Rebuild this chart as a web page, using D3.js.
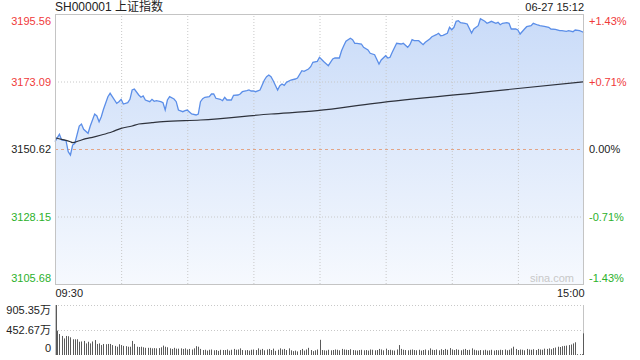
<!DOCTYPE html>
<html><head><meta charset="utf-8">
<script src="https://cdn.jsdelivr.net/npm/d3@7"></script>
<style>
body{margin:0;background:#fff;}
svg text{font-family:"Liberation Sans",Arial,"Noto Sans CJK SC",sans-serif;}
</style>
</head><body><svg id="c" width="640" height="360"></svg>
<script>
const title = "SH000001 上证指数";
const stamp = "06-27 15:12";
const prevClose = 3150.62;
const priceTicks = [3195.56, 3173.09, 3150.62, 3128.15, 3105.68];
const pctTicks = ["+1.43%", "+0.71%", "0.00%", "-0.71%", "-1.43%"];
const timeTicks = [0, 240];
const timeLabels = ["09:30", "15:00"];
const gridMinutes = [30, 60, 90, 120, 150, 180, 210];

const priceMin = [0,2,3,5,6,7,8,9,11,12,13,15,16,18,19,20,21,22,24,25,26,28,29,30,31,33,34,35,36,38,39,40,41,43,44,45,46,48,49,50,51,52,54,55,56,58,59,60,61,62,64,65,66,67,68,70,71,72,73,75,76,77,78,80,81,83,84,85,87,88,89,90,91,93,94,95,96,97,98,99,101,102,103,104,105,107,109,110,112,113,115,116,117,119,120,122,124,126,127,129,130,131,132,134,135,136,137,139,140,142,143,145,147,148,150,151,152,153,155,157,158,160,161,162,163,165,167,168,170,171,173,174,175,176,178,179,180,181,182,183,184,186,187,189,190,192,193,195,196,197,198,200,201,202,203,205,206,207,209,210,211,213,214,216,217,219,220,222,224,225,227,229,230,232,233,235,236,238,240];
const priceVal = [3153.05,3155.51,3153.62,3153.38,3149.72,3148.62,3151.95,3152.52,3158.28,3158.94,3157.18,3155.85,3158.28,3162.27,3161.61,3159.71,3161.37,3163.84,3168.03,3169.16,3168.03,3165.83,3166.37,3167.16,3165.60,3166.03,3167.16,3170.26,3170.59,3168.60,3167.83,3168.26,3166.93,3166.37,3167.16,3166.50,3166.70,3166.37,3166.03,3163.60,3166.93,3168.03,3167.26,3166.37,3163.60,3163.04,3163.37,3163.60,3162.94,3162.27,3161.94,3162.27,3166.37,3167.36,3167.83,3168.03,3168.93,3168.93,3167.50,3167.16,3166.70,3167.83,3166.93,3166.93,3168.50,3168.60,3168.93,3169.69,3170.03,3170.26,3169.93,3169.93,3169.69,3170.26,3171.92,3173.59,3174.69,3175.25,3174.69,3173.36,3170.26,3171.69,3172.26,3171.82,3172.82,3173.59,3173.92,3174.26,3176.69,3176.49,3177.25,3178.02,3179.48,3179.81,3181.15,3179.68,3178.35,3180.58,3180.91,3180.91,3183.34,3185.01,3186.47,3187.47,3187.00,3185.81,3185.81,3185.57,3184.47,3183.58,3182.48,3182.01,3178.92,3180.25,3181.68,3180.91,3181.15,3182.81,3185.81,3185.57,3185.81,3184.47,3185.34,3187.00,3186.67,3186.67,3185.34,3186.14,3187.24,3188.00,3188.67,3189.14,3188.34,3188.47,3189.14,3191.13,3190.33,3191.13,3193.13,3193.33,3192.66,3192.46,3192.23,3189.24,3190.57,3191.67,3194.00,3193.13,3192.46,3192.80,3193.13,3192.46,3192.80,3192.00,3192.46,3192.66,3192.46,3190.57,3190.57,3190.23,3188.90,3190.57,3191.33,3191.67,3192.46,3191.90,3191.67,3191.47,3191.13,3190.57,3190.47,3190.00,3190.00,3189.80,3190.00,3189.67,3190.23,3190.00,3189.40];

const avgMin = [0,3,7,8,11,14,17,21,26,30,35,38,44,49,66,98,119,145,193,240];
const avgVal = [3154.38,3153.85,3153.05,3152.72,3153.38,3154.05,3154.51,3155.28,3156.38,3157.51,3158.28,3158.94,3159.37,3159.71,3160.27,3162.27,3163.37,3165.83,3169.49,3173.02];

const volTicks = [905.35, 452.67, 0];
const volTickLabels = ["905.35万", "452.67万", "0"];
const volumes = [905.35,440,380,345,300,345,340,320,285,285,285,240,245,255,210,240,210,245,270,200,210,180,200,195,200,200,180,165,150,195,180,165,160,150,150,255,200,150,145,150,140,130,130,130,120,125,120,125,140,170,150,140,120,110,130,115,115,120,110,120,100,110,100,120,160,150,110,90,95,80,95,100,85,90,75,95,90,90,100,80,95,110,95,100,120,90,85,90,80,95,100,90,120,95,110,85,100,110,90,115,75,95,120,100,110,90,120,85,70,80,65,90,110,80,100,130,90,70,85,100,275,
90,85,80,95,85,90,100,95,85,110,100,95,90,105,90,85,80,90,95,85,90,80,100,95,85,90,110,100,85,115,90,95,85,80,100,180,110,95,90,85,95,100,90,85,95,80,90,100,85,120,95,90,100,85,105,90,110,95,125,100,90,105,95,85,100,110,90,95,120,95,85,80,90,85,95,80,85,95,80,90,85,95,90,100,85,95,120,150,110,90,100,95,85,110,100,95,105,90,110,100,95,115,110,120,105,125,135,150,145,160,165,170,180,190,210,230,15,15,15,392];

const svg = d3.select("#c");
const L = 55, R = 584, T = 14, B = 284;
const VT = 305, VB = 355;

const x = d3.scaleLinear().domain([0, 240]).range([L, R]);
const y = d3.scaleLinear().domain([priceTicks[4], priceTicks[0]]).range([B, T]);
const yv = d3.scaleLinear().domain([0, volTicks[0]]).range([VB, VT]);

const defs = svg.append("defs");
const grad = defs.append("linearGradient").attr("id", "g").attr("gradientUnits", "userSpaceOnUse")
  .attr("x1", 0).attr("y1", T).attr("x2", 0).attr("y2", B);
grad.append("stop").attr("offset", 0).attr("stop-color", "#c9dbf8");
grad.append("stop").attr("offset", 1).attr("stop-color", "#f6f9fe");

const pts = priceMin.map((m, i) => [m, priceVal[i]]);
svg.append("path").datum(pts)
  .attr("d", d3.area().x(d => x(d[0])).y0(B).y1(d => y(d[1])))
  .attr("fill", "url(#g)");

const hg = svg.append("g").attr("transform", `translate(${L},0)`)
  .call(d3.axisLeft(y).tickValues([priceTicks[1], priceTicks[3]]).tickSize(-(R - L)).tickFormat(""));
hg.select(".domain").remove();
hg.selectAll("line").attr("stroke", "#c8c8c8").attr("stroke-dasharray", "1,2");

const vg = svg.append("g").attr("transform", `translate(0,${B})`)
  .call(d3.axisBottom(x).tickValues(gridMinutes).tickSize(-(B - T)).tickFormat(""));
vg.select(".domain").remove();
vg.selectAll("line").attr("stroke", "#c8c8c8").attr("stroke-dasharray", "1,2");

svg.append("line").attr("x1", L).attr("x2", R).attr("y1", y(prevClose) + 0.5).attr("y2", y(prevClose) + 0.5)
  .attr("stroke", "#e3a587").attr("stroke-dasharray", "3,3");

svg.append("path").datum(pts)
  .attr("d", d3.line().x(d => x(d[0])).y(d => y(d[1])))
  .attr("fill", "none").attr("stroke", "#5b8ee8").attr("stroke-width", 1.3);

const apts = avgMin.map((m, i) => [m, avgVal[i]]);
svg.append("path").datum(apts)
  .attr("d", d3.line().curve(d3.curveMonotoneX).x(d => x(d[0])).y(d => y(d[1])))
  .attr("fill", "none").attr("stroke", "#2e323c").attr("stroke-width", 1.2);

svg.append("rect").attr("x", L + 0.5).attr("y", T + 0.5).attr("width", R - L - 1).attr("height", B - T)
  .attr("fill", "none").attr("stroke", "#c4c4c4");

const colorFor = v => v > prevClose + 0.001 ? "#f03a3a" : (v < prevClose - 0.001 ? "#2bb12b" : "#222");
const la = svg.append("g").attr("transform", `translate(${L},0)`)
  .call(d3.axisLeft(y).tickValues(priceTicks).tickSize(0).tickPadding(4).tickFormat(d3.format(".2f")));
la.select(".domain").remove();
la.selectAll("text").attr("font-size", 11).attr("fill", d => colorFor(d))
  .attr("dy", (d, i) => i === 0 ? "0.95em" : (i === 4 ? "-0.2em" : "0.32em"));

const ra = svg.append("g").attr("transform", `translate(${R},0)`)
  .call(d3.axisRight(y).tickValues(priceTicks).tickSize(0).tickPadding(5).tickFormat((d, i) => pctTicks[i]));
ra.select(".domain").remove();
ra.selectAll("text").attr("font-size", 11).attr("fill", d => colorFor(d))
  .attr("dy", (d, i) => i === 0 ? "0.95em" : (i === 4 ? "-0.2em" : "0.32em"));

svg.append("text").attr("x", L).attr("y", 11).attr("font-size", 12).attr("fill", "#222").text(title);
svg.append("text").attr("x", R).attr("y", 11).attr("font-size", 11).attr("fill", "#222").attr("text-anchor", "end").text(stamp);

svg.append("text").attr("x", 574).attr("y", 282).attr("font-size", 11).attr("fill", "#c8c8c8").attr("text-anchor", "end").text("sina.com");

const ta = svg.append("g").attr("transform", `translate(0,${B})`)
  .call(d3.axisBottom(x).tickValues(timeTicks).tickSize(0).tickPadding(5).tickFormat((d, i) => timeLabels[i]));
ta.select(".domain").remove();
ta.selectAll("text").attr("font-size", 11).attr("fill", "#222")
  .attr("text-anchor", (d, i) => i === 0 ? "start" : "end");

const vgl = svg.append("g").attr("transform", `translate(${L},0)`)
  .call(d3.axisLeft(yv).tickValues(volTicks.slice(0, 2)).tickSize(-(R - L)).tickFormat(""));
vgl.select(".domain").remove();
vgl.selectAll("line").attr("stroke", "#c8c8c8").attr("stroke-dasharray", "1,2");
svg.append("line").attr("x1", R - 0.5).attr("x2", R - 0.5).attr("y1", VT).attr("y2", VB).attr("stroke", "#c4c4c4");
svg.append("line").attr("x1", L + 0.5).attr("x2", L + 0.5).attr("y1", VT).attr("y2", VB).attr("stroke", "#c4c4c4");

svg.append("g").selectAll("rect").data(volumes).join("rect")
  .attr("x", (d, i) => Math.round(x(i)) + (i === 0 ? 1 : 0) - (i === 240 ? 1 : 0))
  .attr("width", 1)
  .attr("y", d => yv(d))
  .attr("height", d => VB - yv(d))
  .attr("fill", "#5a5a5a");

const va = svg.append("g").attr("transform", `translate(${L},0)`)
  .call(d3.axisLeft(yv).tickValues(volTicks).tickSize(0).tickPadding(4).tickFormat((d, i) => volTickLabels[i]));
va.select(".domain").remove();
va.selectAll("text").attr("font-size", 11).attr("fill", "#222")
  .attr("dy", (d, i) => i === 0 ? "0.8em" : (i === 2 ? "-0.3em" : "0.32em"));
</script>
</body></html>
